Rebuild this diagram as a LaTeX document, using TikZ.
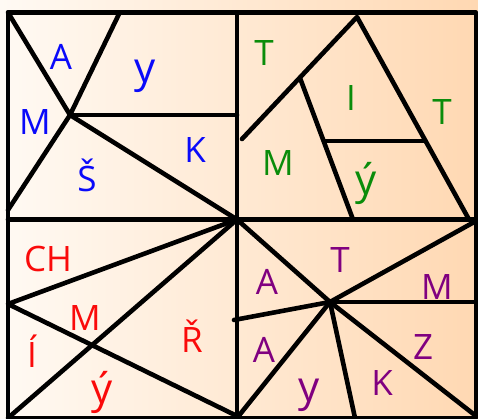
\documentclass[tikz,border=0pt]{standalone}
\usepackage{fontspec}
\setmainfont{Open Sans}
\definecolor{bgL}{RGB}{255,250,244}
\definecolor{bgR}{RGB}{255,216,178}
\definecolor{cblue}{RGB}{10,10,250}
\definecolor{cgreen}{RGB}{10,140,10}
\definecolor{cred}{RGB}{250,10,10}
\definecolor{cpurple}{RGB}{128,0,128}
\begin{document}
\begin{tikzpicture}[x=1pt,y=-1pt,
  ln/.style={line width=4.6pt,line cap=round,line join=round},
  lt/.style={font=\fontsize{35}{35}\selectfont,inner sep=0pt,anchor=center},
  ls/.style={font=\fontsize{42}{42}\selectfont,inner sep=0pt,anchor=center}]
\useasboundingbox (0,0) rectangle (478,419);
\shade[left color=bgL,right color=bgR] (0,0) rectangle (478,419);
% key points
\coordinate (TL) at (8,12.5);
\coordinate (TR) at (476,12.5);
\coordinate (BL) at (8,418);
\coordinate (BR) at (476,418);
\coordinate (MT) at (237,12.5);
\coordinate (MB) at (237,418);
\coordinate (ML) at (8,219.5);
\coordinate (MR) at (476,219.5);
\coordinate (C) at (237,219.5);
% top-left
\coordinate (h1) at (70,115);
\coordinate (a1) at (119,14);
\coordinate (a2) at (8,210);
\coordinate (a3) at (237,115);
% top-right
\coordinate (ap) at (357,17);
\coordinate (b1) at (242,139);
\coordinate (b2) at (469,219.5);
\coordinate (b3) at (300,78);
\coordinate (b4) at (353,219.5);
\coordinate (b5) at (325,141);
\coordinate (b6) at (425,141);
% bottom-left
\coordinate (c1) at (8,304);
\coordinate (c2) at (237,416);
% bottom-right
\coordinate (h2) at (330,302);
\coordinate (d1) at (476,221);
\coordinate (d2) at (476,302);
\coordinate (d3) at (234,320);
\coordinate (d4) at (355,418);
\coordinate (d5) at (476,416);
% frame
\draw[ln] (TL) rectangle (BR);
\draw[ln] (MT) -- (MB);
\draw[ln] (ML) -- (MR);
% TL quadrant
\draw[ln] (TL) -- (h1) -- (a1);
\draw[ln] (h1) -- (a2);
\draw[ln] (h1) -- (a3);
\draw[ln] (h1) -- (C);
% TR quadrant
\draw[ln] (b1) -- (ap) -- (b2);
\draw[ln] (b3) -- (b4);
\draw[ln] (b5) -- (b6);
% BL quadrant
\draw[ln] (C) -- (c1) -- (c2);
\draw[ln] (C) -- (BL);
% BR quadrant
\draw[ln] (C) -- (h2) -- (d1);
\draw[ln] (h2) -- (d2);
\draw[ln] (d3) -- (h2);
\draw[ln] (h2) -- (MB);
\draw[ln] (h2) -- (d4);
\draw[ln] (h2) -- (d5);
% letters TL
\node[lt,text=cblue] (l1) at (61,57) {A};
\node[ls,text=cblue] (l2) at (145,76) {y};
\node[lt,text=cblue] (l3) at (35,122) {M};
\node[lt,text=cblue] (l4) at (195,150) {K};
\node[lt,text=cblue] (l5) at (87,175) {Š};
% letters TR
\node[lt,text=cgreen] (l6) at (264,53) {T};
\node[lt,text=cgreen] (l7) at (351,98) {I};
\node[lt,text=cgreen] (l8) at (442,112) {T};
\node[lt,text=cgreen] (l9) at (278,163) {M};
\node[ls,text=cgreen] (l10) at (366,183) {ý};
% letters BL
\node[lt,text=cred] (l11) at (48,259) {CH};
\node[lt,text=cred] (l12) at (85,318) {M};
\node[lt,text=cred] (l13) at (32,351) {Í};
\node[lt,text=cred] (l14) at (192,336) {Ř};
\node[ls,text=cred] (l15) at (102,392) {ý};
% letters BR
\node[lt,text=cpurple] (l16) at (340,260) {T};
\node[lt,text=cpurple] (l17) at (267,282) {A};
\node[lt,text=cpurple] (l18) at (437,287) {M};
\node[lt,text=cpurple] (l19) at (264,350) {A};
\node[lt,text=cpurple] (l20) at (423,347) {Z};
\node[lt,text=cpurple] (l21) at (382,383) {K};
\node[ls,text=cpurple] (l22) at (309,395) {y};
\end{tikzpicture}
\end{document}
